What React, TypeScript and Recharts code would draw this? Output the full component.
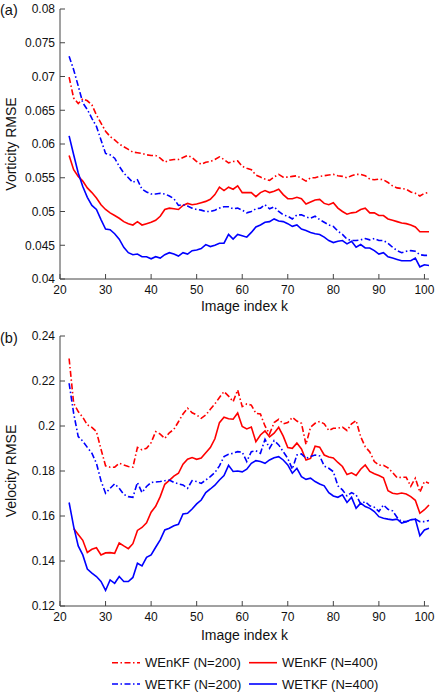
import React from 'react'
import { LineChart, Line, XAxis, YAxis, Label } from 'recharts'

// image index k (x axis)
const imageIndex = [
  22, 23, 24, 25, 26, 27, 28, 29, 30, 31, 32, 33, 34, 35, 36, 37, 38, 39, 40, 41,
  42, 43, 44, 45, 46, 47, 48, 49, 50, 51, 52, 53, 54, 55, 56, 57, 58, 59, 60, 61,
  62, 63, 64, 65, 66, 67, 68, 69, 70, 71, 72, 73, 74, 75, 76, 77, 78, 79, 80, 81,
  82, 83, 84, 85, 86, 87, 88, 89, 90, 91, 92, 93, 94, 95, 96, 97, 98, 99, 100, 101,
]

// (a) vorticity RMSE
const vortWEnKF200 = [
  0.0699, 0.0668, 0.0660, 0.0667, 0.0664, 0.0658, 0.0643, 0.0631, 0.0619, 0.0611,
  0.0606, 0.0600, 0.0596, 0.0592, 0.0588, 0.0587, 0.0586, 0.0584, 0.0583, 0.0583,
  0.0579, 0.0573, 0.0576, 0.0577, 0.0577, 0.0580, 0.0583, 0.0580, 0.0574, 0.0570,
  0.0573, 0.0574, 0.0577, 0.0581, 0.0577, 0.0572, 0.0574, 0.0575, 0.0567, 0.0564,
  0.0562, 0.0554, 0.0551, 0.0548, 0.0546, 0.0551, 0.0555, 0.0551, 0.0551, 0.0552,
  0.0553, 0.0549, 0.0545, 0.0550, 0.0550, 0.0552, 0.0553, 0.0554, 0.0555, 0.0553,
  0.0552, 0.0550, 0.0553, 0.0555, 0.0555, 0.0553, 0.0548, 0.0547, 0.0548, 0.0547,
  0.0543, 0.0538, 0.0535, 0.0534, 0.0533, 0.0529, 0.0527, 0.0523, 0.0527, 0.0528,
]
const vortWEnKF400 = [
  0.0583, 0.0562, 0.0552, 0.0545, 0.0535, 0.0528, 0.0520, 0.0510, 0.0503, 0.0498,
  0.0494, 0.0490, 0.0485, 0.0482, 0.0480, 0.0485, 0.0480, 0.0482, 0.0484, 0.0487,
  0.0493, 0.0503, 0.0505, 0.0504, 0.0503, 0.0509, 0.0512, 0.0510, 0.0511, 0.0513,
  0.0515, 0.0518, 0.0525, 0.0536, 0.0531, 0.0536, 0.0533, 0.0538, 0.0528, 0.0528,
  0.0528, 0.0522, 0.0528, 0.0531, 0.0528, 0.0530, 0.0533, 0.0525, 0.0519, 0.0519,
  0.0521, 0.0519, 0.0511, 0.0514, 0.0517, 0.0518, 0.0512, 0.0510, 0.0513, 0.0505,
  0.0500, 0.0496, 0.0498, 0.0499, 0.0503, 0.0505, 0.0498, 0.0498, 0.0494, 0.0494,
  0.0489, 0.0487, 0.0485, 0.0483, 0.0482, 0.0480, 0.0477, 0.0470, 0.0470, 0.0470,
]
const vortWETKF200 = [
  0.0730, 0.0710, 0.0686, 0.0661, 0.0651, 0.0638, 0.0626, 0.0606, 0.0586, 0.0584,
  0.0579, 0.0567, 0.0557, 0.0550, 0.0543, 0.0547, 0.0533, 0.0529, 0.0526, 0.0526,
  0.0527, 0.0526, 0.0523, 0.0519, 0.0509, 0.0510, 0.0508, 0.0505, 0.0503, 0.0502,
  0.0500, 0.0500, 0.0502, 0.0505, 0.0507, 0.0507, 0.0504, 0.0505, 0.0502, 0.0498,
  0.0500, 0.0504, 0.0505, 0.0510, 0.0504, 0.0507, 0.0500, 0.0495, 0.0493, 0.0489,
  0.0495, 0.0495, 0.0492, 0.0490, 0.0493, 0.0488, 0.0484, 0.0480, 0.0478, 0.0471,
  0.0466, 0.0459, 0.0457, 0.0457, 0.0458, 0.0460, 0.0458, 0.0460, 0.0457, 0.0457,
  0.0453, 0.0447, 0.0442, 0.0439, 0.0441, 0.0442, 0.0441, 0.0436, 0.0435, 0.0435,
]
const vortWETKF400 = [
  0.0612, 0.0584, 0.0557, 0.0537, 0.0521, 0.0509, 0.0503, 0.0488, 0.0474, 0.0473,
  0.0467, 0.0459, 0.0447, 0.0439, 0.0436, 0.0437, 0.0433, 0.0433, 0.0430, 0.0433,
  0.0431, 0.0436, 0.0439, 0.0437, 0.0434, 0.0439, 0.0437, 0.0442, 0.0443, 0.0445,
  0.0451, 0.0448, 0.0450, 0.0453, 0.0453, 0.0466, 0.0459, 0.0466, 0.0464, 0.0462,
  0.0469, 0.0477, 0.0480, 0.0484, 0.0485, 0.0489, 0.0486, 0.0485, 0.0482, 0.0478,
  0.0480, 0.0474, 0.0472, 0.0469, 0.0467, 0.0466, 0.0462, 0.0457, 0.0454, 0.0456,
  0.0457, 0.0452, 0.0456, 0.0447, 0.0451, 0.0446, 0.0446, 0.0442, 0.0437, 0.0439,
  0.0433, 0.0431, 0.0429, 0.0427, 0.0427, 0.0427, 0.0431, 0.0418, 0.0421, 0.0420,
]

// (b) velocity RMSE
const veloWEnKF200 = [
  0.2300, 0.2101, 0.2064, 0.2039, 0.2005, 0.1994, 0.1975, 0.1897, 0.1823, 0.1817,
  0.1817, 0.1834, 0.1827, 0.1820, 0.1817, 0.1905, 0.1894, 0.1901, 0.1926, 0.1975,
  0.1964, 0.1945, 0.1970, 0.1985, 0.2019, 0.2053, 0.2079, 0.2059, 0.2049, 0.2034,
  0.2049, 0.2074, 0.2098, 0.2127, 0.2153, 0.2133, 0.2108, 0.2160, 0.2086, 0.2098,
  0.2093, 0.2056, 0.2053, 0.2000, 0.1965, 0.2015, 0.2030, 0.2010, 0.2015, 0.2038,
  0.2022, 0.2012, 0.1918, 0.1995, 0.2012, 0.2020, 0.2010, 0.1980, 0.1990, 0.1990,
  0.1995, 0.1980, 0.2010, 0.2024, 0.1952, 0.1908, 0.1885, 0.1842, 0.1826, 0.1825,
  0.1814, 0.1793, 0.1770, 0.1772, 0.1772, 0.1732, 0.1768, 0.1706, 0.1753, 0.1746,
]
const veloWEnKF400 = [
  null, 0.1544, 0.1518, 0.1492, 0.1438, 0.1452, 0.1459, 0.1427, 0.1436, 0.1437,
  0.1434, 0.1480, 0.1467, 0.1455, 0.1477, 0.1536, 0.1549, 0.1570, 0.1617, 0.1643,
  0.1686, 0.1741, 0.1758, 0.1777, 0.1790, 0.1830, 0.1852, 0.1860, 0.1852, 0.1858,
  0.1881, 0.1904, 0.1943, 0.2015, 0.2039, 0.2032, 0.2030, 0.2058, 0.1998, 0.1987,
  0.1995, 0.1930, 0.1960, 0.1978, 0.1952, 0.1968, 0.1994, 0.1955, 0.1904, 0.1901,
  0.1924, 0.1898, 0.1849, 0.1856, 0.1910, 0.1906, 0.1871, 0.1862, 0.1858, 0.1838,
  0.1820, 0.1784, 0.1792, 0.1780, 0.1808, 0.1827, 0.1798, 0.1788, 0.1780, 0.1770,
  0.1712, 0.1701, 0.1698, 0.1702, 0.1698, 0.1686, 0.1670, 0.1612, 0.1628, 0.1649,
]
const veloWETKF200 = [
  0.2190, 0.2056, 0.1953, 0.1933, 0.1905, 0.1879, 0.1834, 0.1757, 0.1701, 0.1723,
  0.1743, 0.1723, 0.1696, 0.1686, 0.1683, 0.1749, 0.1704, 0.1731, 0.1749, 0.1751,
  0.1753, 0.1757, 0.1760, 0.1749, 0.1743, 0.1738, 0.1723, 0.1757, 0.1753, 0.1745,
  0.1760, 0.1775, 0.1793, 0.1823, 0.1864, 0.1874, 0.1879, 0.1886, 0.1884, 0.1842,
  0.1886, 0.1890, 0.1879, 0.1941, 0.1901, 0.1935, 0.1916, 0.1886, 0.1856, 0.1808,
  0.1871, 0.1876, 0.1856, 0.1864, 0.1871, 0.1867, 0.1822, 0.1812, 0.1797, 0.1734,
  0.1716, 0.1689, 0.1704, 0.1694, 0.1654, 0.1664, 0.1645, 0.1639, 0.1620, 0.1649,
  0.1630, 0.1623, 0.1594, 0.1575, 0.1575, 0.1583, 0.1586, 0.1575, 0.1575, 0.1580,
]
const veloWETKF400 = [
  0.1660, 0.1553, 0.1467, 0.1427, 0.1364, 0.1346, 0.1331, 0.1309, 0.1269, 0.1316,
  0.1301, 0.1331, 0.1309, 0.1309, 0.1327, 0.1390, 0.1378, 0.1416, 0.1427, 0.1461,
  0.1494, 0.1538, 0.1546, 0.1557, 0.1563, 0.1609, 0.1612, 0.1631, 0.1654, 0.1671,
  0.1704, 0.1720, 0.1737, 0.1760, 0.1780, 0.1825, 0.1798, 0.1800, 0.1796, 0.1808,
  0.1834, 0.1846, 0.1842, 0.1834, 0.1849, 0.1859, 0.1864, 0.1849, 0.1827, 0.1790,
  0.1812, 0.1775, 0.1763, 0.1768, 0.1753, 0.1742, 0.1734, 0.1704, 0.1689, 0.1683,
  0.1694, 0.1660, 0.1683, 0.1634, 0.1657, 0.1642, 0.1634, 0.1620, 0.1597, 0.1590,
  0.1586, 0.1583, 0.1586, 0.1568, 0.1575, 0.1583, 0.1586, 0.1512, 0.1538, 0.1546,
]

const xTicks = [20, 30, 40, 50, 60, 70, 80, 90, 100]
const vortTicks = [0.04, 0.045, 0.05, 0.055, 0.06, 0.065, 0.07, 0.075, 0.08]
const veloTicks = [0.12, 0.14, 0.16, 0.18, 0.2, 0.22, 0.24]

const FONT = '"Liberation Sans", Arial, sans-serif'
const AXIS = '#444'
const DASHDOT = '6 2.5 1.5 2.5'

const series = [
  { key: 'wenkf200', name: 'WEnKF (N=200)', color: '#ff0000', dash: DASHDOT },
  { key: 'wenkf400', name: 'WEnKF (N=400)', color: '#ff0000', dash: undefined },
  { key: 'wetkf200', name: 'WETKF (N=200)', color: '#0000ff', dash: DASHDOT },
  { key: 'wetkf400', name: 'WETKF (N=400)', color: '#0000ff', dash: undefined },
]

const vortRows = imageIndex.map((k, i) => ({
  k, wenkf200: vortWEnKF200[i], wenkf400: vortWEnKF400[i], wetkf200: vortWETKF200[i], wetkf400: vortWETKF400[i],
}))
const veloRows = imageIndex.map((k, i) => ({
  k, wenkf200: veloWEnKF200[i], wenkf400: veloWEnKF400[i], wetkf200: veloWETKF200[i], wetkf400: veloWETKF400[i],
}))

const fmt = (v: number) => String(Number(v.toFixed(3)))
const tickStyle = { fontSize: 12, fill: '#111', fontFamily: FONT }
const labelStyle = { fontSize: 14, fill: '#111', fontFamily: FONT, textAnchor: 'middle' }

function Panel({ rows, domain, ticks, yLabel, height, top, xAxisHeight, xLabelOffset }: any) {
  const xDomain = [20, 101]
  return (
    <LineChart width={436} height={height} data={rows} margin={{ top, right: 7, bottom: 0, left: 0 }}>
      <XAxis
        dataKey="k" type="number" domain={xDomain} ticks={xTicks} interval={0}
        height={xAxisHeight} tickSize={-5} tickMargin={11}
        stroke={AXIS} tick={tickStyle} tickLine={{ stroke: AXIS }}
      >
        <Label value="Image index k" position="insideBottom" offset={xLabelOffset} style={labelStyle} />
      </XAxis>
      <XAxis
        xAxisId="top" orientation="top" dataKey="k" type="number" domain={xDomain} ticks={xTicks}
        interval={0} height={0} tickSize={-5} tick={false} stroke={AXIS}
      />
      <YAxis
        type="number" domain={domain} ticks={ticks} interval={0} width={60}
        tickSize={-5} tickMargin={10} tickFormatter={fmt}
        stroke={AXIS} tick={tickStyle} tickLine={{ stroke: AXIS }}
      >
        <Label value={yLabel} angle={-90} position="insideLeft" offset={11} style={labelStyle} />
      </YAxis>
      <YAxis
        yAxisId="right" orientation="right" type="number" domain={domain} ticks={ticks}
        interval={0} width={0} tickSize={-5} tick={false} stroke={AXIS}
      />
      {series.map((s) => (
        <Line
          key={s.key}
          type="linear"
          dataKey={s.key}
          name={s.name}
          stroke={s.color}
          strokeWidth={1.6}
          strokeDasharray={s.dash}
          dot={false}
          activeDot={false}
          connectNulls={false}
          isAnimationActive={false}
        />
      ))}
    </LineChart>
  )
}

function LegendBox() {
  const cols = [112, 249]
  const rowsY = [12.7, 34]
  return (
    <svg width={436} height={42} style={{ position: 'absolute', left: 0, top: 650 }}>
      {series.map((s, i) => {
        const x = cols[i % 2]
        const y = rowsY[Math.floor(i / 2)]
        return (
          <g key={s.key}>
            <line x1={x} x2={x + 28} y1={y} y2={y} stroke={s.color} strokeWidth={1.6} strokeDasharray={s.dash} />
            <text x={x + 33} y={y} dominantBaseline="central" fontSize={13} fontFamily={FONT} fill="#111">
              {s.name}
            </text>
          </g>
        )
      })}
    </svg>
  )
}

const tagStyle: React.CSSProperties = {
  position: 'absolute', left: 0, fontFamily: FONT, fontSize: 14.5, color: '#111', lineHeight: '16px',
}

export default function App() {
  return (
    <div style={{ position: 'absolute', left: 0, top: 0, width: 436, height: 692, background: '#fff' }}>
      <div style={{ position: 'absolute', left: 0, top: 0 }}>
        <Panel rows={vortRows} domain={[0.04, 0.08]} ticks={vortTicks} yLabel="Vorticity RMSE"
          height={320} top={9} xAxisHeight={41} xLabelOffset={9.5} />
      </div>
      <div style={{ position: 'absolute', left: 0, top: 320 }}>
        <Panel rows={veloRows} domain={[0.12, 0.24]} ticks={veloTicks} yLabel="Velocity RMSE"
          height={330} top={16} xAxisHeight={44} xLabelOffset={10.5} />
      </div>
      <div style={{ ...tagStyle, top: 2 }}>(a)</div>
      <div style={{ ...tagStyle, top: 330 }}>(b)</div>
      <LegendBox />
    </div>
  )
}
